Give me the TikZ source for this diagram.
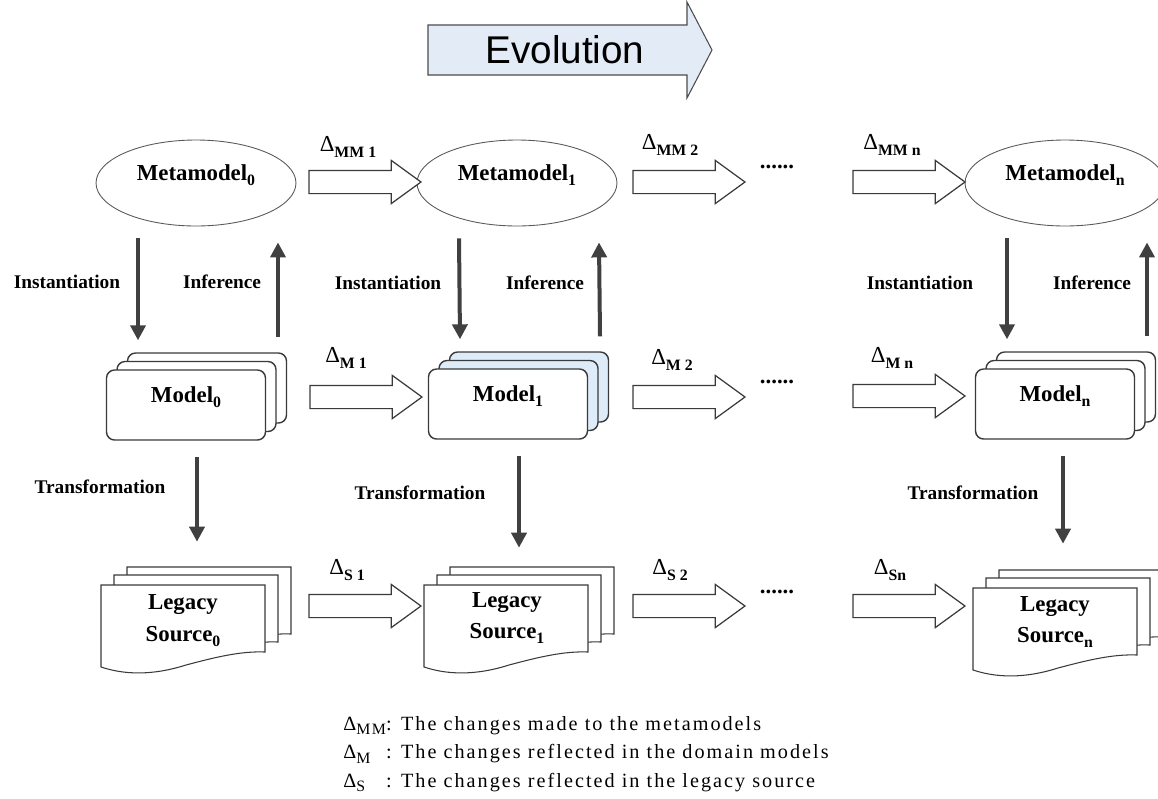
\documentclass[tikz,border=0pt]{standalone}
\usepackage{fontspec}
\setmainfont{Liberation Serif}
\setsansfont{Liberation Sans}
\newfontfamily\legendfont[LetterSpace=10]{Liberation Serif}
\usepackage{tikz}
\usetikzlibrary{shadows}
\usetikzlibrary{shapes.geometric}
\usetikzlibrary{shapes.arrows}
\usetikzlibrary{arrows.meta}

\definecolor{linegray}{HTML}{3A3A3A}
\definecolor{flowgray}{HTML}{404040}
\definecolor{evoblue}{HTML}{E3EBF6}
\definecolor{cardblue}{HTML}{DDECF8}

\newcommand{\nsub}[1]{\raisebox{-0.5ex}{\fontsize{9}{9}\selectfont\bfseries #1}}
\newcommand{\dsym}[1]{{\fontsize{13}{13}\selectfont\mdseries Δ}\raisebox{-0.7ex}{\fontsize{9}{9}\selectfont\bfseries #1}}
\newcommand{\lgsub}[1]{\raisebox{-0.5ex}{\fontsize{9}{9}\selectfont #1}}

\begin{document}
\begin{tikzpicture}[x=0.02cm, y=-0.02cm, every node/.style={inner sep=0pt},
    metabox/.style={ellipse, draw=gray!70!black, line width=0.5pt, fill=white, minimum width=4cm, minimum height=1.72cm, font=\fontsize{13}{14}\selectfont\bfseries, text height=0.35cm, text depth=0.45cm},
    card/.style={rectangle, rounded corners=0.16cm, draw=linegray, line width=0.8pt, fill=white, minimum width=3.18cm, minimum height=1.4cm, font=\fontsize{13}{14}\selectfont\bfseries, text height=0.35cm, text depth=0.45cm,
        copy shadow={shadow xshift=0.42cm, shadow yshift=0.34cm, draw=linegray, line width=0.8pt, fill=#1},
        copy shadow={shadow xshift=0.21cm, shadow yshift=0.17cm, draw=linegray, line width=0.8pt, fill=#1}},
    card/.default=white,
    blockarr/.style={single arrow, draw=linegray, line width=0.7pt, fill=white, minimum height=2.24cm, minimum width=0.84cm, single arrow head extend=0.2cm, single arrow tip angle=72, inner xsep=0pt, inner ysep=0.22cm},
    flow/.style={draw=flowgray, line width=0.08cm, -{Triangle[width=0.3cm,length=0.3cm]}},
    sidelab/.style={font=\fontsize{11}{12}\selectfont\bfseries},
    dlab/.style={font=\bfseries},
    dots/.style={font=\fontsize{13}{14}\selectfont\bfseries},
    lstext/.style={align=center, font=\fontsize{13}{18}\selectfont\bfseries},
    pageline/.style={draw=linegray, line width=0.6pt, fill=white},
    page/.pic={
        \draw[pageline] (0,0) -- (164,0) -- (164,67) .. controls (140,66) and (115,72) .. (85,80) .. controls (60,88) and (30,92) .. (0,82) -- cycle;
    }]
    \useasboundingbox (0,0) rectangle (1158,798);

    % evolution banner
    \draw[draw=gray!60!black, line width=0.6pt, fill=evoblue] (428,25) -- (687,25) -- (687,2) -- (712,50) -- (687,98) -- (687,75) -- (428,75) -- cycle;
    \node[font=\sffamily\fontsize{22}{24}\selectfont] (evolution) at (565,50) {Evolution};

    % metamodels
    \node[metabox] (mm0) at (196,183) {Metamodel\nsub{0}};
    \node[metabox] (mm1) at (517,183) {Metamodel\nsub{1}};
    \node[metabox] (mmn) at (1065,183) {Metamodel\nsub{n}};

    % models
    \node[card] (mod0) at (186,405) {Model\nsub{0}};
    \node[card=cardblue] (mod1) at (508,404) {Model\nsub{1}};
    \node[card] (modn) at (1055,404) {Model\nsub{n}};

    % legacy sources
    \pic at (127,567) {page};
    \pic at (114,575) {page};
    \pic at (101,585) {page};
    \node[lstext] (ls0) at (183,621) {Legacy\\Source\nsub{0}};

    \pic at (450,567) {page};
    \pic at (437,575) {page};
    \pic at (424,585) {page};
    \node[lstext] (ls1) at (507,618) {Legacy\\Source\nsub{1}};

    \pic at (999,570) {page};
    \pic at (986,578) {page};
    \pic at (973,588) {page};
    \node[lstext] (lsn) at (1055,622) {Legacy\\Source\nsub{n}};

    % deltas
    \node[blockarr] (amm1) at (357,182) {};
    \node[blockarr] (amm2) at (681,182) {};
    \node[blockarr] (ammn) at (901,182) {};
    \node[blockarr] (am1) at (358,397) {};
    \node[blockarr] (am2) at (681,397) {};
    \node[blockarr] (amn) at (901,396) {};
    \node[blockarr] (as1) at (357,606) {};
    \node[blockarr] (as2) at (681,606) {};
    \node[blockarr] (asn) at (901,606) {};

    \node[dlab] (dmm1) at (348,147) {\dsym{MM 1}};
    \node[dlab] (dmm2) at (670,145) {\dsym{MM 2}};
    \node[dlab] (dmmn) at (892,145) {\dsym{MM n}};
    \node[dlab] (dm1) at (346,358) {\dsym{M 1}};
    \node[dlab] (dm2) at (672,360) {\dsym{M 2}};
    \node[dlab] (dmn) at (892,358) {\dsym{M n}};
    \node[dlab] (ds1) at (347,570) {\dsym{S 1}};
    \node[dlab] (ds2) at (670,570) {\dsym{S 2}};
    \node[dlab] (dsn) at (890,570) {\dsym{Sn}};

    \node[dots] (dotsmm) at (777,167) {......};
    \node[dots] (dotsm) at (777,382) {......};
    \node[dots] (dotss) at (777,592) {......};

    % vertical links
    \draw[flow] ([shift={(-58,12)}]mm0.south) -- ([shift={(-48,-29)}]mod0.north);
    \draw[flow] ([shift={(92,-32)}]mod0.north) -- ([shift={(82,16)}]mm0.south);
    \draw[flow] ([shift={(-58,12)}]mm1.south) -- ([shift={(-48,-29)}]mod1.north);
    \draw[flow] ([shift={(92,-32)}]mod1.north) -- ([shift={(82,16)}]mm1.south);
    \draw[flow] ([shift={(-58,12)}]mmn.south) -- ([shift={(-48,-29)}]modn.north);
    \draw[flow] ([shift={(92,-32)}]modn.north) -- ([shift={(82,16)}]mmn.south);

    \draw[flow] ([shift={(11,16)}]mod0.south) -- ++(0,85);
    \draw[flow] ([shift={(11,16)}]mod1.south) -- ++(0,92);
    \draw[flow] ([shift={(8,16)}]modn.south) -- ++(0,88);

    \node[sidelab] (inst0) at (67,282) {Instantiation};
    \node[sidelab] (inf0) at (222,282) {Inference};
    \node[sidelab] (inst1) at (388,283) {Instantiation};
    \node[sidelab] (inf1) at (545,283) {Inference};
    \node[sidelab] (instn) at (920,283) {Instantiation};
    \node[sidelab] (infn) at (1092,283) {Inference};
    \node[sidelab] (tr0) at (100,487) {Transformation};
    \node[sidelab] (tr1) at (420,493) {Transformation};
    \node[sidelab] (trn) at (973,493) {Transformation};

    % legend
    \node[anchor=west, font=\legendfont\fontsize{11.5}{16.2}\selectfont] (legend) at (343,753) {\begin{tabular}{@{}l@{}l@{}}
        Δ\lgsub{MM} & : The changes made to the metamodels\\
        Δ\lgsub{M} & : The changes reflected in the domain models\\
        Δ\lgsub{S} & : The changes reflected in the legacy source
    \end{tabular}};
\end{tikzpicture}
\end{document}
